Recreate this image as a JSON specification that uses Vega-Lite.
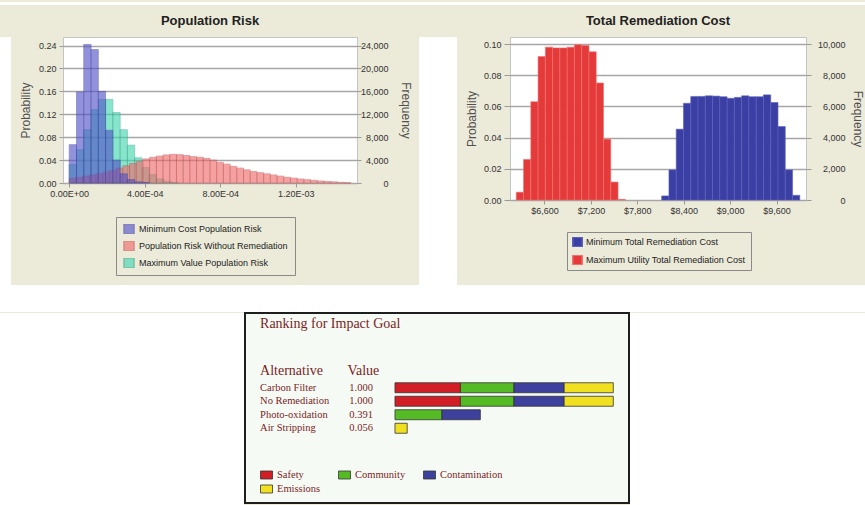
{
"$schema":"https://vega.github.io/schema/vega-lite/v6.json",
"background":"#ECEAD9",
"padding":0,
"spacing":0,
"resolve":{"scale":{"fill":"independent","stroke":"independent","color":"independent"},"legend":{"fill":"independent","stroke":"independent","color":"independent"}},
"config":{
 "font":"Liberation Sans",
 "view":{"stroke":null},
 "axis":{"labelFont":"Liberation Sans","labelFontSize":9,"labelColor":"#333333","titleFont":"Liberation Sans","titleFontSize":12,"titleFontWeight":"normal","titleColor":"#505050","tickColor":"#9a9a9a","tickWidth":1,"domain":false,"labelFlush":false,"labelOverlap":false},
 "legend":{"labelFont":"Liberation Sans","labelFontSize":9,"labelColor":"#222222","labelLimit":300},
 "title":{"font":"Liberation Sans","fontSize":13,"fontWeight":"bold","color":"#222222"}
},
"datasets":{
 "risk":[
  {"s":"Maximum Value Population Risk","x0":0,"x1":0.0000385,"p":0.032},
  {"s":"Maximum Value Population Risk","x0":0.0000385,"x1":0.000077,"p":0.058},
  {"s":"Maximum Value Population Risk","x0":0.000077,"x1":0.0001155,"p":0.093},
  {"s":"Maximum Value Population Risk","x0":0.0001155,"x1":0.000154,"p":0.128},
  {"s":"Maximum Value Population Risk","x0":0.000154,"x1":0.0001925,"p":0.146},
  {"s":"Maximum Value Population Risk","x0":0.0001925,"x1":0.000231,"p":0.146},
  {"s":"Maximum Value Population Risk","x0":0.000231,"x1":0.0002695,"p":0.123},
  {"s":"Maximum Value Population Risk","x0":0.0002695,"x1":0.000308,"p":0.093},
  {"s":"Maximum Value Population Risk","x0":0.000308,"x1":0.0003465,"p":0.066},
  {"s":"Maximum Value Population Risk","x0":0.0003465,"x1":0.000385,"p":0.044},
  {"s":"Maximum Value Population Risk","x0":0.000385,"x1":0.0004235,"p":0.027},
  {"s":"Maximum Value Population Risk","x0":0.0004235,"x1":0.000462,"p":0.015},
  {"s":"Maximum Value Population Risk","x0":0.000462,"x1":0.0005005,"p":0.007},
  {"s":"Maximum Value Population Risk","x0":0.0005005,"x1":0.000539,"p":0.003},
  {"s":"Maximum Value Population Risk","x0":0.000539,"x1":0.0005775,"p":0.001},
  {"s":"Population Risk Without Remediation","x0":0,"x1":0.0000355,"p":0.008},
  {"s":"Population Risk Without Remediation","x0":0.0000355,"x1":0.000071,"p":0.010},
  {"s":"Population Risk Without Remediation","x0":0.000071,"x1":0.0001065,"p":0.012},
  {"s":"Population Risk Without Remediation","x0":0.0001065,"x1":0.000142,"p":0.014},
  {"s":"Population Risk Without Remediation","x0":0.000142,"x1":0.0001775,"p":0.016},
  {"s":"Population Risk Without Remediation","x0":0.0001775,"x1":0.000213,"p":0.019},
  {"s":"Population Risk Without Remediation","x0":0.000213,"x1":0.0002485,"p":0.022},
  {"s":"Population Risk Without Remediation","x0":0.0002485,"x1":0.000284,"p":0.026},
  {"s":"Population Risk Without Remediation","x0":0.000284,"x1":0.0003195,"p":0.030},
  {"s":"Population Risk Without Remediation","x0":0.0003195,"x1":0.000355,"p":0.034},
  {"s":"Population Risk Without Remediation","x0":0.000355,"x1":0.0003905,"p":0.038},
  {"s":"Population Risk Without Remediation","x0":0.0003905,"x1":0.000426,"p":0.042},
  {"s":"Population Risk Without Remediation","x0":0.000426,"x1":0.0004615,"p":0.045},
  {"s":"Population Risk Without Remediation","x0":0.0004615,"x1":0.000497,"p":0.047},
  {"s":"Population Risk Without Remediation","x0":0.000497,"x1":0.0005325,"p":0.049},
  {"s":"Population Risk Without Remediation","x0":0.0005325,"x1":0.000568,"p":0.050},
  {"s":"Population Risk Without Remediation","x0":0.000568,"x1":0.0006035,"p":0.0495},
  {"s":"Population Risk Without Remediation","x0":0.0006035,"x1":0.000639,"p":0.048},
  {"s":"Population Risk Without Remediation","x0":0.000639,"x1":0.0006745,"p":0.046},
  {"s":"Population Risk Without Remediation","x0":0.0006745,"x1":0.00071,"p":0.045},
  {"s":"Population Risk Without Remediation","x0":0.00071,"x1":0.0007455,"p":0.043},
  {"s":"Population Risk Without Remediation","x0":0.0007455,"x1":0.000781,"p":0.040},
  {"s":"Population Risk Without Remediation","x0":0.000781,"x1":0.0008165,"p":0.036},
  {"s":"Population Risk Without Remediation","x0":0.0008165,"x1":0.000852,"p":0.033},
  {"s":"Population Risk Without Remediation","x0":0.000852,"x1":0.0008875,"p":0.029},
  {"s":"Population Risk Without Remediation","x0":0.0008875,"x1":0.000923,"p":0.026},
  {"s":"Population Risk Without Remediation","x0":0.000923,"x1":0.0009585,"p":0.023},
  {"s":"Population Risk Without Remediation","x0":0.0009585,"x1":0.000994,"p":0.020},
  {"s":"Population Risk Without Remediation","x0":0.000994,"x1":0.0010295,"p":0.018},
  {"s":"Population Risk Without Remediation","x0":0.0010295,"x1":0.001065,"p":0.016},
  {"s":"Population Risk Without Remediation","x0":0.001065,"x1":0.0011005,"p":0.014},
  {"s":"Population Risk Without Remediation","x0":0.0011005,"x1":0.001136,"p":0.012},
  {"s":"Population Risk Without Remediation","x0":0.001136,"x1":0.0011715,"p":0.010},
  {"s":"Population Risk Without Remediation","x0":0.0011715,"x1":0.001207,"p":0.0085},
  {"s":"Population Risk Without Remediation","x0":0.001207,"x1":0.0012425,"p":0.007},
  {"s":"Population Risk Without Remediation","x0":0.0012425,"x1":0.001278,"p":0.0058},
  {"s":"Population Risk Without Remediation","x0":0.001278,"x1":0.0013135,"p":0.0047},
  {"s":"Population Risk Without Remediation","x0":0.0013135,"x1":0.001349,"p":0.0035},
  {"s":"Population Risk Without Remediation","x0":0.001349,"x1":0.0013845,"p":0.0027},
  {"s":"Population Risk Without Remediation","x0":0.0013845,"x1":0.00142,"p":0.002},
  {"s":"Population Risk Without Remediation","x0":0.00142,"x1":0.0014555,"p":0.0012},
  {"s":"Population Risk Without Remediation","x0":0.0014555,"x1":0.001491,"p":0.0006},
  {"s":"Minimum Cost Population Risk","x0":0,"x1":0.0000385,"p":0.067},
  {"s":"Minimum Cost Population Risk","x0":0.0000385,"x1":0.000077,"p":0.159},
  {"s":"Minimum Cost Population Risk","x0":0.000077,"x1":0.0001155,"p":0.242},
  {"s":"Minimum Cost Population Risk","x0":0.0001155,"x1":0.000154,"p":0.233},
  {"s":"Minimum Cost Population Risk","x0":0.000154,"x1":0.0001925,"p":0.160},
  {"s":"Minimum Cost Population Risk","x0":0.0001925,"x1":0.000231,"p":0.092},
  {"s":"Minimum Cost Population Risk","x0":0.000231,"x1":0.0002695,"p":0.040},
  {"s":"Minimum Cost Population Risk","x0":0.0002695,"x1":0.000308,"p":0.016},
  {"s":"Minimum Cost Population Risk","x0":0.000308,"x1":0.0003465,"p":0.006},
  {"s":"Minimum Cost Population Risk","x0":0.0003465,"x1":0.000385,"p":0.002},
  {"s":"Minimum Cost Population Risk","x0":0.000385,"x1":0.0004235,"p":0.001}
 ],
 "cost":[
  {"s":"Maximum Utility Total Remediation Cost","x0":6235,"x1":6329,"p":0.005},
  {"s":"Maximum Utility Total Remediation Cost","x0":6329,"x1":6423,"p":0.026},
  {"s":"Maximum Utility Total Remediation Cost","x0":6423,"x1":6517,"p":0.063},
  {"s":"Maximum Utility Total Remediation Cost","x0":6517,"x1":6611,"p":0.092},
  {"s":"Maximum Utility Total Remediation Cost","x0":6611,"x1":6705,"p":0.098},
  {"s":"Maximum Utility Total Remediation Cost","x0":6705,"x1":6799,"p":0.0975},
  {"s":"Maximum Utility Total Remediation Cost","x0":6799,"x1":6893,"p":0.0975},
  {"s":"Maximum Utility Total Remediation Cost","x0":6893,"x1":6987,"p":0.098},
  {"s":"Maximum Utility Total Remediation Cost","x0":6987,"x1":7081,"p":0.0995},
  {"s":"Maximum Utility Total Remediation Cost","x0":7081,"x1":7175,"p":0.099},
  {"s":"Maximum Utility Total Remediation Cost","x0":7175,"x1":7269,"p":0.095},
  {"s":"Maximum Utility Total Remediation Cost","x0":7269,"x1":7363,"p":0.075},
  {"s":"Maximum Utility Total Remediation Cost","x0":7363,"x1":7457,"p":0.039},
  {"s":"Maximum Utility Total Remediation Cost","x0":7457,"x1":7551,"p":0.0115},
  {"s":"Maximum Utility Total Remediation Cost","x0":7551,"x1":7645,"p":0.0004},
  {"s":"Minimum Total Remediation Cost","x0":8115,"x1":8209,"p":0.0026},
  {"s":"Minimum Total Remediation Cost","x0":8209,"x1":8303,"p":0.0193},
  {"s":"Minimum Total Remediation Cost","x0":8303,"x1":8397,"p":0.0454},
  {"s":"Minimum Total Remediation Cost","x0":8397,"x1":8491,"p":0.062},
  {"s":"Minimum Total Remediation Cost","x0":8491,"x1":8585,"p":0.0664},
  {"s":"Minimum Total Remediation Cost","x0":8585,"x1":8679,"p":0.0664},
  {"s":"Minimum Total Remediation Cost","x0":8679,"x1":8773,"p":0.0668},
  {"s":"Minimum Total Remediation Cost","x0":8773,"x1":8867,"p":0.0666},
  {"s":"Minimum Total Remediation Cost","x0":8867,"x1":8961,"p":0.0662},
  {"s":"Minimum Total Remediation Cost","x0":8961,"x1":9055,"p":0.0652},
  {"s":"Minimum Total Remediation Cost","x0":9055,"x1":9149,"p":0.0658},
  {"s":"Minimum Total Remediation Cost","x0":9149,"x1":9243,"p":0.0668},
  {"s":"Minimum Total Remediation Cost","x0":9243,"x1":9337,"p":0.0662},
  {"s":"Minimum Total Remediation Cost","x0":9337,"x1":9431,"p":0.0662},
  {"s":"Minimum Total Remediation Cost","x0":9431,"x1":9525,"p":0.0674},
  {"s":"Minimum Total Remediation Cost","x0":9525,"x1":9619,"p":0.0625},
  {"s":"Minimum Total Remediation Cost","x0":9619,"x1":9713,"p":0.0471},
  {"s":"Minimum Total Remediation Cost","x0":9713,"x1":9807,"p":0.0193},
  {"s":"Minimum Total Remediation Cost","x0":9807,"x1":9901,"p":0.003}
 ],
 "rank":[
  {"alt":"Carbon Filter","c":"Safety","k":1,"v":0.300},
  {"alt":"Carbon Filter","c":"Community","k":2,"v":0.245},
  {"alt":"Carbon Filter","c":"Contamination","k":3,"v":0.230},
  {"alt":"Carbon Filter","c":"Emissions","k":4,"v":0.225},
  {"alt":"No Remediation","c":"Safety","k":1,"v":0.300},
  {"alt":"No Remediation","c":"Community","k":2,"v":0.245},
  {"alt":"No Remediation","c":"Contamination","k":3,"v":0.230},
  {"alt":"No Remediation","c":"Emissions","k":4,"v":0.225},
  {"alt":"Photo-oxidation","c":"Community","k":2,"v":0.215},
  {"alt":"Photo-oxidation","c":"Contamination","k":3,"v":0.176},
  {"alt":"Air Stripping","c":"Emissions","k":4,"v":0.056}
 ],
 "alts":[
  {"alt":"Carbon Filter","value":1.000},
  {"alt":"No Remediation","value":1.000},
  {"alt":"Photo-oxidation","value":0.391},
  {"alt":"Air Stripping","value":0.056}
 ]
},
"vconcat":[
 {"data":{"values":[{}]},"mark":{"type":"point","opacity":0},"encoding":{},"width":865,"height":3,"view":{"fill":"white","stroke":null}},
 {"spacing":7,"columns":4,"align":"none",
  "resolve":{"scale":{"fill":"independent","stroke":"independent","color":"independent"},"legend":{"fill":"independent","stroke":"independent","color":"independent"}},
  "concat":[
  {"data":{"values":[{}]},"mark":{"type":"point","opacity":0},"encoding":{},"width":11,"height":248,"view":{"fill":"white","stroke":null}},
  {"width":294,"height":146,
   "view":{"fill":"white","stroke":"#c4c4c4"},
   "title":{"text":["","Population Risk"],"lineHeight":7.5,"offset":9},
   "data":{"name":"risk"},
   "layer":[
    {"mark":{"type":"bar","opacity":0.62,"strokeWidth":0.8},
     "encoding":{
      "x":{"field":"x0","type":"quantitative","scale":{"domain":[-0.000033,0.001524],"nice":false,"zero":false},
           "axis":{"values":[0,0.0004,0.0008,0.0012],"labelExpr":"replace(replace(upper(format(datum.value, '.2e')), 'E-', 'E-0'), 'E+', 'E+0')","title":null,"grid":false,"tickSize":4,"labelPadding":2}},
      "x2":{"field":"x1"},
      "y":{"field":"p","type":"quantitative","stack":null,"scale":{"domain":[0,0.255],"nice":false},
           "axis":{"values":[0,0.04,0.08,0.12,0.16,0.2,0.24],"format":".2f","title":"Probability","grid":true,"gridColor":"#a6a6a6","gridWidth":1.5,"tickSize":4,"labelPadding":3,"titlePadding":6}},
      "y2":{"datum":0},
      "fill":{"field":"s","type":"nominal",
              "scale":{"domain":["Minimum Cost Population Risk","Population Risk Without Remediation","Maximum Value Population Risk"],"range":["#5050c8","#f06868","#3ed6ae"]},
              "legend":{"orient":"none","legendX":53,"legendY":180,"title":null,"symbolType":"square","symbolSize":100,"clipHeight":10,"rowPadding":7,"padding":7,"labelOffset":4,"strokeColor":"#8a8a8a","fillColor":"#ECEAD9"}},
      "stroke":{"field":"s","type":"nominal",
              "scale":{"domain":["Minimum Cost Population Risk","Population Risk Without Remediation","Maximum Value Population Risk"],"range":["#4040a8","#c85050","#2ea88a"]},
              "legend":{"orient":"none","legendX":53,"legendY":180,"title":null,"symbolType":"square","symbolSize":100,"clipHeight":10,"rowPadding":7,"padding":7,"labelOffset":4,"strokeColor":"#8a8a8a","fillColor":"#ECEAD9"}}
     }},
    {"mark":{"type":"rule","opacity":0},
     "encoding":{"y":{"datum":0,"type":"quantitative","scale":{"domain":[0,25500],"nice":false},
       "axis":{"orient":"right","values":[0,4000,8000,12000,16000,20000,24000],"format":",d","title":"Frequency","grid":false,"tickSize":4,"labelAlign":"right","labelPadding":27,"titlePadding":10}}}}
   ],
   "resolve":{"scale":{"y":"independent"}}
  },
  {"data":{"values":[{}]},"mark":{"type":"point","opacity":0},"encoding":{},"width":38,"height":248,"view":{"fill":"white","stroke":null}},
  {"width":296,"height":163,
   "view":{"fill":"white","stroke":"#c4c4c4"},
   "title":{"text":["","Total Remediation Cost"],"lineHeight":7.5,"offset":9},
   "data":{"name":"cost"},
   "layer":[
    {"mark":{"type":"bar","strokeWidth":0.6},
     "encoding":{
      "x":{"field":"x0","type":"quantitative","scale":{"domain":[6154,9981],"nice":false,"zero":false},
           "axis":{"values":[6600,7200,7800,8400,9000,9600],"format":"$,d","title":null,"grid":false,"tickSize":4,"labelPadding":2}},
      "x2":{"field":"x1"},
      "y":{"field":"p","type":"quantitative","stack":null,"scale":{"domain":[0,0.1045],"nice":false},
           "axis":{"values":[0,0.02,0.04,0.06,0.08,0.1],"format":".2f","title":"Probability","grid":true,"gridColor":"#a6a6a6","gridWidth":1.5,"tickSize":6,"labelPadding":3,"titlePadding":5}},
      "y2":{"datum":0},
      "fill":{"field":"s","type":"nominal",
              "scale":{"domain":["Minimum Total Remediation Cost","Maximum Utility Total Remediation Cost"],"range":["#3b3fa3","#e43a3a"]},
              "legend":{"orient":"none","legendX":57,"legendY":195,"title":null,"symbolType":"square","symbolSize":90,"clipHeight":10,"rowPadding":8,"padding":5,"labelOffset":3,"strokeColor":"#8a8a8a","fillColor":"#ECEAD9"}},
      "stroke":{"field":"s","type":"nominal",
              "scale":{"domain":["Minimum Total Remediation Cost","Maximum Utility Total Remediation Cost"],"range":["#5a5fc0","#f07070"]},
              "legend":{"orient":"none","legendX":57,"legendY":195,"title":null,"symbolType":"square","symbolSize":90,"clipHeight":10,"rowPadding":8,"padding":5,"labelOffset":3,"strokeColor":"#8a8a8a","fillColor":"#ECEAD9"}}
     }},
    {"mark":{"type":"rule","opacity":0},
     "encoding":{"y":{"datum":0,"type":"quantitative","scale":{"domain":[0,10450],"nice":false},
       "axis":{"orient":"right","values":[0,2000,4000,6000,8000,10000],"format":",d","title":"Frequency","grid":false,"tickSize":5,"labelAlign":"right","labelPadding":34,"titlePadding":5}}}}
   ],
   "resolve":{"scale":{"y":"independent"}}
  }
 ]},
 {"data":{"values":[{}]},"mark":{"type":"point","opacity":0},"encoding":{},"width":865,"height":27,"view":{"fill":"white","stroke":null}},
 {"spacing":0,
  "resolve":{"scale":{"fill":"independent","stroke":"independent","color":"independent"},"legend":{"fill":"independent","stroke":"independent","color":"independent"}},
  "hconcat":[
  {"data":{"values":[{}]},"mark":{"type":"point","opacity":0},"encoding":{},"width":244,"height":192,"view":{"fill":"white","stroke":null}},
  {"width":384,"height":190,
   "view":{"fill":"#f6faf5","stroke":"#1e1e1e","strokeWidth":2},
   "layer":[
    {"data":{"name":"rank"},
     "mark":{"type":"bar","stroke":"#333333","strokeWidth":0.8},
     "encoding":{
      "y":{"field":"alt","type":"nominal","scale":{"domain":["Carbon Filter","No Remediation","Photo-oxidation","Air Stripping"],"range":[68,122],"paddingInner":0.26,"paddingOuter":0.13},"axis":null},
      "x":{"field":"v","type":"quantitative","stack":"zero","scale":{"domain":[-0.687,1.072],"nice":false,"zero":false},"axis":null},
      "order":{"field":"k","type":"quantitative"},
      "color":{"field":"c","type":"nominal",
               "scale":{"domain":["Safety","Community","Contamination","Emissions"],"range":["#d21f25","#55bb25","#3d409c","#f0e020"]},
               "legend":{"orient":"none","legendX":15,"legendY":156,"title":null,"direction":"horizontal","columns":3,"columnPadding":17,"rowPadding":2,"symbolType":"M-1,-0.667H1V0.667H-1Z","symbolSize":144,"clipHeight":12,"symbolStrokeColor":"#333333","symbolStrokeWidth":0.8,"labelFont":"Liberation Serif","labelFontSize":10.5,"labelColor":"#7a1e1e","labelOffset":4,"padding":0}}
     }},
    {"data":{"name":"alts"},
     "mark":{"type":"text","align":"left","font":"Liberation Serif","fontSize":10.5,"color":"#7a1e1e"},
     "encoding":{"y":{"field":"alt","type":"nominal"},"x":{"datum":-0.618},"text":{"field":"alt"}}},
    {"data":{"name":"alts"},
     "mark":{"type":"text","align":"left","font":"Liberation Serif","fontSize":10.5,"color":"#7a1e1e"},
     "encoding":{"y":{"field":"alt","type":"nominal"},"x":{"datum":-0.209},"text":{"field":"value","type":"quantitative","format":".3f"}}},
    {"data":{"values":[{"t":"Alternative"}]},
     "mark":{"type":"text","align":"left","font":"Liberation Serif","fontSize":14,"color":"#7a1e1e","dy":-17},
     "encoding":{"y":{"datum":"Carbon Filter"},"x":{"datum":-0.618},"text":{"field":"t"}}},
    {"data":{"values":[{"t":"Value"}]},
     "mark":{"type":"text","align":"left","font":"Liberation Serif","fontSize":14,"color":"#7a1e1e","dy":-17},
     "encoding":{"y":{"datum":"Carbon Filter"},"x":{"datum":-0.218},"text":{"field":"t"}}},
    {"data":{"values":[{"t":"Ranking for Impact Goal"}]},
     "mark":{"type":"text","align":"left","font":"Liberation Serif","fontSize":14,"color":"#7a1e1e","dy":-64},
     "encoding":{"y":{"datum":"Carbon Filter"},"x":{"datum":-0.618},"text":{"field":"t"}}}
   ]
  },
  {"data":{"values":[{}]},"mark":{"type":"point","opacity":0},"encoding":{},"width":235,"height":192,"view":{"fill":"white","stroke":null}}
 ]}
]
}
